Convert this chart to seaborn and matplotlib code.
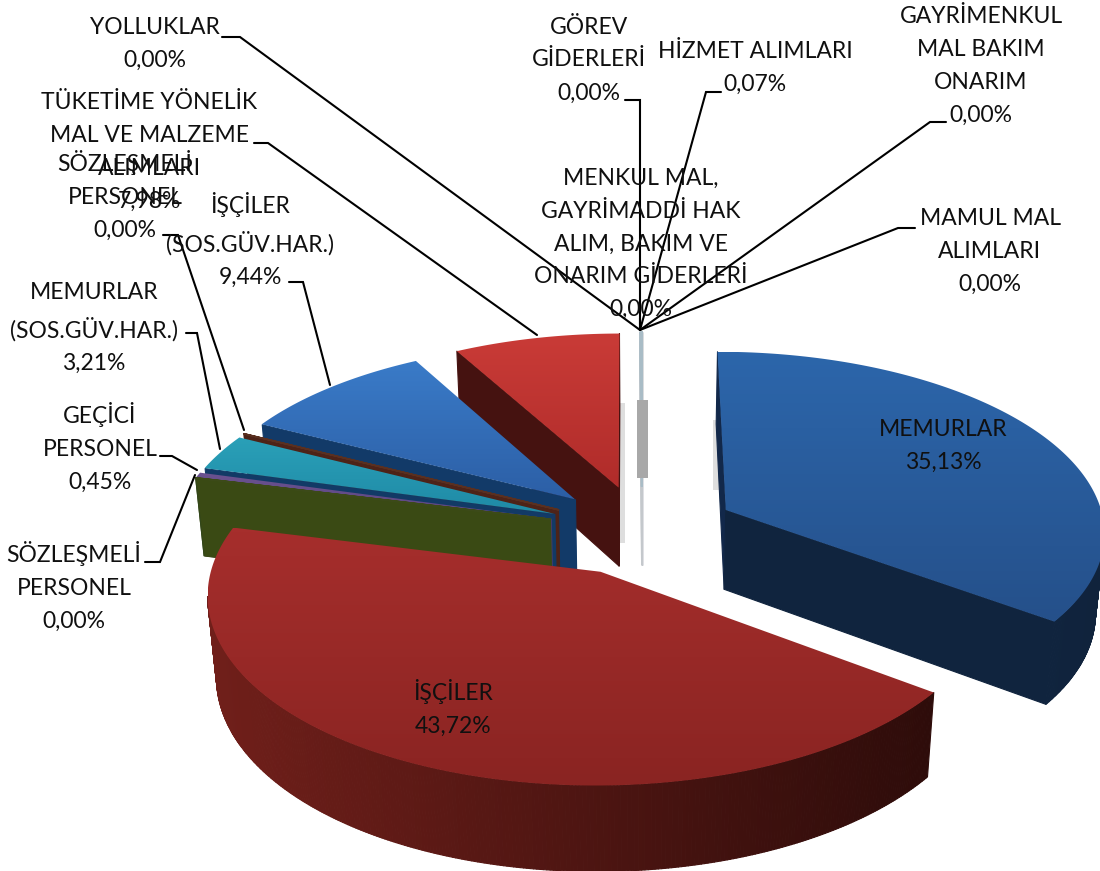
import numpy as np
import matplotlib
matplotlib.use('Agg')
import matplotlib.pyplot as plt
from matplotlib.patches import Polygon, Rectangle
from matplotlib.collections import PolyCollection
import seaborn as sns

# Values (percent)
categories = ['MEMURLAR', 'İŞÇİLER', 'SÖZLEŞMELİ\nPERSONEL', 'GEÇİCİ\nPERSONEL',
              'MEMURLAR\n(SOS.GÜV.HAR.)', 'SÖZLEŞMELİ\nPERSONEL', 'İŞÇİLER\n(SOS.GÜV.HAR.)',
              'TÜKETİME YÖNELİK\nMAL VE MALZEME\nALIMLARI', 'YOLLUKLAR', 'GÖREV\nGİDERLERİ',
              'HİZMET ALIMLARI', 'GAYRİMENKUL\nMAL BAKIM\nONARIM',
              'MENKUL MAL,\nGAYRİMADDİ HAK\nALIM, BAKIM VE\nONARIM GİDERLERİ',
              'MAMUL MAL\nALIMLARI']
values = [35.13, 43.72, 0.00, 0.45, 3.21, 0.00, 9.44, 7.98, 0.00, 0.00, 0.07, 0.00, 0.00, 0.00]

# Top surface colours (upper, lower), wall colours (left, right)
top_colors = [('#2c66ab', '#25508a'), ('#a62e2c', '#8a2422'), ('#3c4a18', '#3c4a18'),
              ('#6b5290', '#5a4580'), ('#2aa0b8', '#1f8aa6'), ('#5a3020', '#5a3020'),
              ('#3a7bc8', '#2c5fa6'), ('#c93b37', '#b02c2a'), ('#a9bcc6', '#a9bcc6'),
              ('#a9bcc6', '#a9bcc6'), ('#a9bcc6', '#a9bcc6'), ('#a9bcc6', '#a9bcc6'),
              ('#a9bcc6', '#a9bcc6'), ('#a9bcc6', '#a9bcc6')]
wall_colors = [('#12284a', '#10233c'), ('#701f1a', '#2e0c0a'), ('#32461a', '#3a4a14'),
               ('#4a3a6a', '#4a3a6a'), ('#123a66', '#123a66'), ('#4d2318', '#4d2318'),
               ('#12305f', '#123a68'), ('#5a1611', '#451210'), ('#c4c8cc', '#c4c8cc'),
               ('#c4c8cc', '#c4c8cc'), ('#c4c8cc', '#c4c8cc'), ('#c4c8cc', '#c4c8cc'),
               ('#c4c8cc', '#c4c8cc'), ('#c4c8cc', '#c4c8cc')]

# Back to front
draw_order = [8, 9, 10, 11, 12, 13, 7, 6, 5, 4, 3, 2, 1, 0]

# Label centres and leader lines, pixel positions of the picture
label_pos = [(943, 446), (453, 708), (74, 586), (100, 447), (94, 328), (125, 195), (250, 240),
             (149, 152), (155, 44), (589, 60), (755, 68), (981, 66), (641, 244), (990, 251)]
leaders = [None, None,
           [(145, 562), (160, 562), (195, 475)],
           [(160, 456), (172, 456), (197, 470)],
           [(186, 333), (197, 333), (220, 449)],
           [(163, 235), (178, 235), (244, 430)],
           [(289, 282), (303, 282), (330, 385)],
           [(254, 143), (268, 143), (537, 335)],
           [(222, 37), (240, 37), (640, 330)],
           [(625, 100), (640, 100), (640, 330)],
           [(721, 92), (706, 92), (640, 330)],
           [(946, 122), (930, 122), (640, 330)],
           [(640, 318), (640, 330)],
           [(915, 228), (898, 228), (640, 330)]]

# Projection of the tilted pie
cx, cy = 642, 530
rx, ry = 380, 180
persp = 0.111
explode = 0.25
depth = 80


def project(u, v, z=0.0):
    w = 1 - persp * v + 0.02 * z
    x = cx + rx * u / w
    y = cy + ry * v / w + depth * z * (1 + 0.12 * v)
    return x, y


sns.set_theme(style='white')
plt.rcParams['font.family'] = ['Lato', 'DejaVu Sans']

fig = plt.figure(figsize=(11, 8.71), dpi=100)
ax = fig.add_axes([0, 0, 1, 1])

angles = np.cumsum([0] + values) * 3.6

for n, i in enumerate(draw_order):
    a0, a1 = np.radians(angles[i]), np.radians(angles[i + 1])
    mid = (a0 + a1) / 2
    du, dv = explode * np.sin(mid), -explode * np.cos(mid)
    t = np.linspace(a0, a1, max(2, int(values[i] * 8)))
    u = np.r_[du, du + np.sin(t), du]
    v = np.r_[dv, dv - np.cos(t), dv]
    xt, yt = project(u, v)
    xb, yb = project(u, v, 1.0)

    # side walls, only the faces turned to the viewer, shaded left to right
    wall_cmap = sns.blend_palette(wall_colors[i], as_cmap=True)
    span = max(xt.max() - xt.min(), 1)
    quads, shades = [], []
    for j in range(len(u) - 1):
        if xt[j + 1] - xt[j] <= 1e-6:
            quads.append([(xt[j], yt[j]), (xt[j + 1], yt[j + 1]), (xb[j + 1], yb[j + 1]), (xb[j], yb[j])])
            shades.append(wall_cmap((xt[j] - xt.min()) / span))
    ax.add_collection(PolyCollection(quads, facecolors=shades, edgecolors=shades,
                                     linewidths=0.8, zorder=10 + 2 * n))

    # top surface
    if values[i] < 0.1:
        ax.plot(xt, yt, color=top_colors[i][0], lw=1.2, zorder=11 + 2 * n)
        continue
    patch = Polygon(np.c_[xt, yt], closed=True, facecolor='none', edgecolor='none')
    ax.add_patch(patch)
    im = ax.imshow(np.linspace(0, 1, 64)[:, None], extent=(xt.min(), xt.max(), yt.max(), yt.min()),
                   cmap=sns.blend_palette(top_colors[i], as_cmap=True), aspect='auto',
                   zorder=11 + 2 * n)
    im.set_clip_path(patch)

# soft grey smear on the thin slices and beside the cut faces
ax.add_patch(Rectangle((637, 400), 11, 78, facecolor='#a8a8a8', edgecolor='none', zorder=40))
ax.add_patch(Rectangle((620, 403), 5, 140, facecolor='#dedede', edgecolor='none', zorder=1))
ax.add_patch(Rectangle((713, 420), 6, 70, facecolor='#dedede', edgecolor='none', zorder=1))

for leader in leaders:
    if leader:
        ax.plot(*zip(*leader), color='black', lw=1.5, zorder=50, solid_joinstyle='miter')

for name, val, pos in zip(categories, values, label_pos):
    txt = name + '\n' + f'{val:.2f}'.replace('.', ',') + '%'
    ax.text(pos[0], pos[1], txt, ha='center', va='center', fontsize=16.5, color='#101010',
            linespacing=1.7, zorder=60)

ax.set_xlim(0, 1100)
ax.set_ylim(871, 0)
ax.axis('off')
fig.savefig('out.png', dpi=100, facecolor='white')
